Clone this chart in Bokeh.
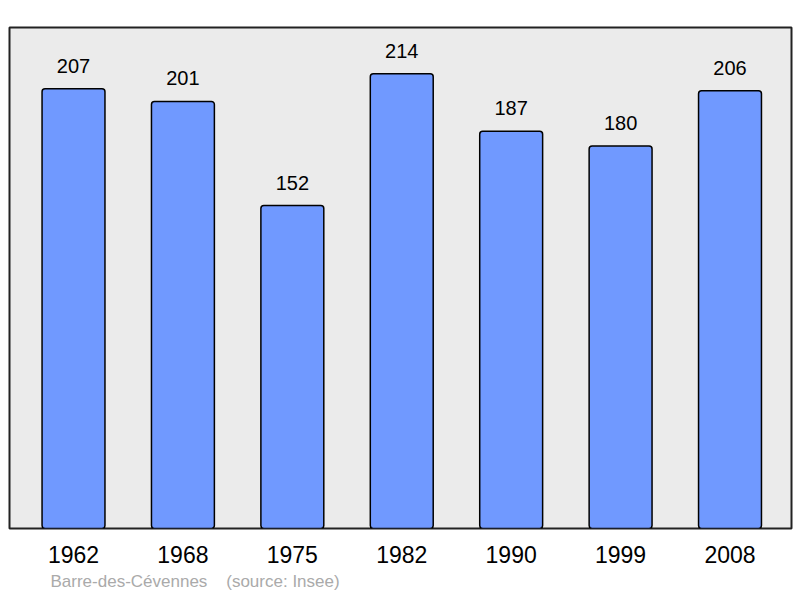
from bokeh.plotting import figure
from bokeh.models import ColumnDataSource, Range1d, FixedTicker, Title
from bokeh.core.properties import value
from bokeh.embed import file_html
from bokeh.resources import INLINE

years = ["1962", "1968", "1975", "1982", "1990", "1999", "2008"]
population = [207, 201, 152, 214, 187, 180, 206]
positions = list(range(len(years)))
source_text = "Barre-des-Cévennes" + "\u00a0" * 4 + "(source: Insee)"

src = ColumnDataSource(dict(x=positions, y=population, lab=[str(v) for v in population]))

p = figure(width=800, height=596, output_backend="svg", toolbar_location=None,
           x_range=Range1d(-0.585, 6.562), y_range=Range1d(0, 235.8),
           min_border_left=9, min_border_right=9, min_border_top=27, min_border_bottom=68)
p.background_fill_color = "#EBEBEB"
p.border_fill_color = "white"
p.outline_line_color = "#222222"
p.outline_line_width = 2
p.grid.visible = False
p.yaxis.visible = False

p.vbar(x="x", top="y", width=0.575, source=src, fill_color="#7099FF",
       line_color="black", line_width=1.5, border_radius=3)
p.text(x="x", y="y", text="lab", source=src, text_align="center", text_baseline="middle",
       y_offset=-23, text_font=value("Liberation Sans"), text_font_size="20px", text_color="black")

ax = p.xaxis[0]
ax.ticker = FixedTicker(ticks=positions)
ax.major_label_overrides = {i: y for i, y in zip(positions, years)}
ax.axis_line_color = None
ax.major_tick_line_color = None
ax.minor_tick_line_color = None
ax.major_tick_out = 0
ax.major_label_standoff = 17
ax.major_label_text_font = "Liberation Sans"
ax.major_label_text_font_size = "23px"
ax.major_label_text_color = "black"

p.add_layout(Title(text=source_text, align="left", offset=41,
                   standoff=9, text_font="Liberation Sans", text_font_size="17px",
                   text_font_style="normal", text_color="#AAAAAA"), "below")

open("out.html", "w").write(file_html(p, INLINE))
